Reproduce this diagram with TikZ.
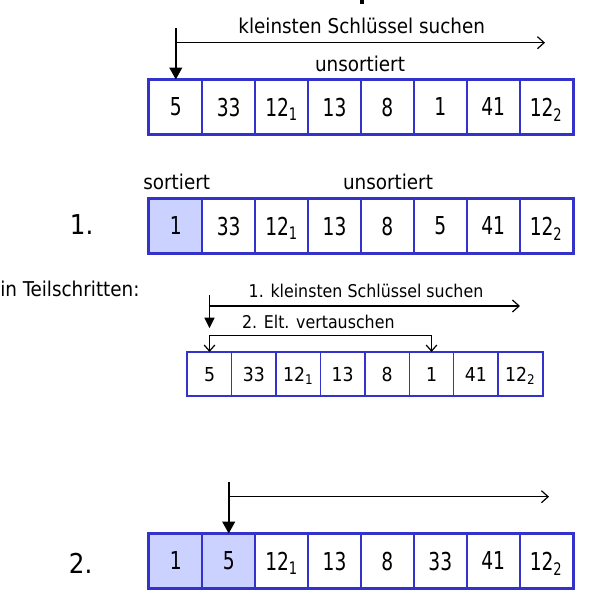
\documentclass[tikz,border=0pt]{standalone}
\usepackage{fontspec}
\setmainfont{DejaVu Sans Condensed}
\newfontfamily\celldigits{DejaVu Sans Condensed}[FakeStretch=0.84]
\usetikzlibrary{arrows.meta}
\definecolor{cellblue}{RGB}{51,51,204}
\definecolor{sortedfill}{RGB}{204,210,255}
\begin{document}
\begin{tikzpicture}[x=0.75pt,y=-0.75pt]
			\tikzstyle{every node}+=[inner sep=0pt]
			\tikzstyle{cell}=[draw=cellblue,line width=1.4pt,minimum width=39.7pt,minimum height=39.8pt,text depth=0pt,font=\celldigits\fontsize{18.5}{20}\selectfont]
			\tikzstyle{smallcell}=[draw=cellblue,line width=1.1pt,minimum width=33.3pt,minimum height=32.3pt,text depth=0pt,font=\fontsize{14.4}{16}\selectfont]
			\tikzstyle{done}=[fill=sortedfill]
			\tikzstyle{frame}=[draw=cellblue,line width=2pt]
			\tikzstyle{smallframe}=[draw=cellblue,line width=1.5pt]
			\tikzstyle{label}=[anchor=base,font=\fontsize{15.3}{17}\selectfont]
			\tikzstyle{smalllabel}=[anchor=base,font=\fontsize{13.2}{15}\selectfont]
			\tikzstyle{stepno}=[anchor=base,font=\fontsize{20.5}{22}\selectfont]
			\tikzstyle{pointer}=[line width=1.5pt,-{Triangle[length=9pt,width=9.5pt]}]
			\tikzstyle{smallpointer}=[line width=1.2pt,-{Triangle[length=8pt,width=7.5pt]}]
			\tikzstyle{scan}=[line width=0.9pt,-{Straight Barb[length=5pt,width=9pt]}]
			\tikzstyle{swap}=[line width=0.9pt,{Straight Barb[length=4.5pt,width=8pt]}-{Straight Barb[length=4.5pt,width=8pt]}]
			\useasboundingbox (0,0) rectangle (588,609);
			\fill (360,0) rectangle (364,4);
			% Ausgangsfolge
			\node [cell] (a1) at (175.8,107) {5};
			\node [cell] (a2) at (228.7,107) {33};
			\node [cell] (a3) at (281.6,107) {12\textsubscript{1}};
			\node [cell] (a4) at (334.5,107) {13};
			\node [cell] (a5) at (387.4,107) {8};
			\node [cell] (a6) at (440.3,107) {1};
			\node [cell] (a7) at (493.2,107) {41};
			\node [cell] (a8) at (546.1,107) {12\textsubscript{2}};
			\draw [frame] (a1.north west) rectangle (a8.south east);
			\node [label] (search) at (361.7,34) {kleinsten Schlüssel suchen};
			\node [label] (unsorted) at (360,71.7) {unsortiert};
			\coordinate (ptop) at (175.8,28);
			\coordinate (scanstart) at (175.8,42.7);
			\coordinate (scanend) at (545,42.7);
			\draw [pointer] (ptop) -- (a1.north);
			\draw [scan] (scanstart) -- (scanend);
			% Schritt 1
			\node [stepno] (one) at (81.7,235) {1.};
			\node [cell,done] (b1) at (175.8,226) {1};
			\node [cell] (b2) at (228.7,226) {33};
			\node [cell] (b3) at (281.6,226) {12\textsubscript{1}};
			\node [cell] (b4) at (334.5,226) {13};
			\node [cell] (b5) at (387.4,226) {8};
			\node [cell] (b6) at (440.3,226) {5};
			\node [cell] (b7) at (493.2,226) {41};
			\node [cell] (b8) at (546.1,226) {12\textsubscript{2}};
			\draw [frame] (b1.north west) rectangle (b8.south east);
			\node [label] (sorted1) at (176.7,190) {sortiert};
			\node [label] (unsorted1) at (388,190) {unsortiert};
			% Teilschritte
			\node [label,anchor=base west] (partial) at (0,296.7) {in Teilschritten:};
			\node [smallcell] (c1) at (209.5,374.2) {5};
			\node [smallcell] (c2) at (253.9,374.2) {33};
			\node [smallcell] (c3) at (298.3,374.2) {12\textsubscript{1}};
			\node [smallcell] (c4) at (342.7,374.2) {13};
			\node [smallcell] (c5) at (387.1,374.2) {8};
			\node [smallcell] (c6) at (431.5,374.2) {1};
			\node [smallcell] (c7) at (475.9,374.2) {41};
			\node [smallcell] (c8) at (520.3,374.2) {12\textsubscript{2}};
			\draw [smallframe] (c1.north west) rectangle (c8.south east);
			\node [smalllabel] (search2) at (366,297.3) {1. kleinsten Schlüssel suchen};
			\node [smalllabel] (exchange) at (318.3,328.3) {2. Elt. vertauschen};
			\coordinate (qtop) at (209.5,295);
			\coordinate (qend) at (209.5,328.3);
			\coordinate (scan2start) at (209.5,306);
			\coordinate (scan2end) at (520,306);
			\draw [smallpointer] (qtop) -- (qend);
			\draw [scan] (scan2start) -- (scan2end);
			\draw [swap] (c1.north) -- ++(0,-16.7) -| (c6.north);
			% Schritt 2
			\node [stepno] (two) at (80.7,573.3) {2.};
			\node [cell,done] (d1) at (175.8,561) {1};
			\node [cell,done] (d2) at (228.7,561) {5};
			\node [cell] (d3) at (281.6,561) {12\textsubscript{1}};
			\node [cell] (d4) at (334.5,561) {13};
			\node [cell] (d5) at (387.4,561) {8};
			\node [cell] (d6) at (440.3,561) {33};
			\node [cell] (d7) at (493.2,561) {41};
			\node [cell] (d8) at (546.1,561) {12\textsubscript{2}};
			\draw [frame] (d1.north west) rectangle (d8.south east);
			\coordinate (rtop) at (228.7,481.7);
			\coordinate (scan3start) at (228.7,496.7);
			\coordinate (scan3end) at (549,496.7);
			\draw [pointer] (rtop) -- (d2.north);
			\draw [scan] (scan3start) -- (scan3end);
		\end{tikzpicture}
\end{document}
